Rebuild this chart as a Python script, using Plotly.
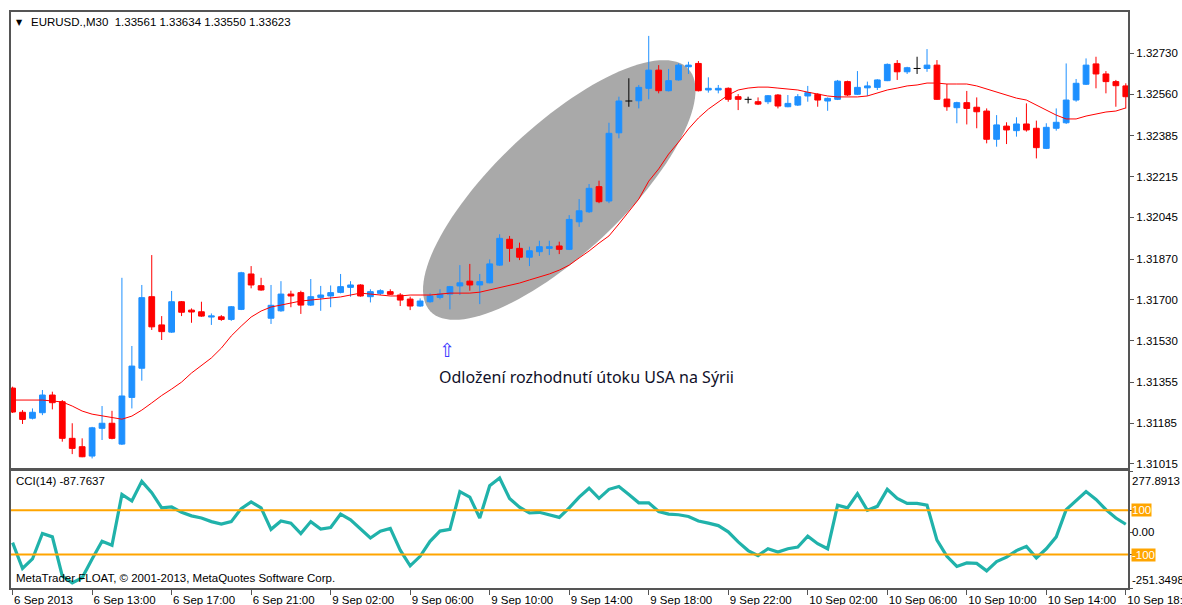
import math
import plotly.graph_objects as go

# ---------------- data ----------------
bar_index = list(range(113))

tick_index = [0, 8, 16, 24, 32, 40, 48, 56, 64, 72, 80, 88, 96, 104, 112]
tick_labels = ["6 Sep 2013", "6 Sep 13:00", "6 Sep 17:00", "6 Sep 21:00", "9 Sep 02:00",
               "9 Sep 06:00", "9 Sep 10:00", "9 Sep 14:00", "9 Sep 18:00", "9 Sep 22:00",
               "10 Sep 02:00", "10 Sep 06:00", "10 Sep 10:00", "10 Sep 14:00", "10 Sep 18:00"]

price_ticks = [1.32730, 1.32560, 1.32385, 1.32215, 1.32045, 1.31870,
               1.31700, 1.31530, 1.31355, 1.31185, 1.31015]

opens = [1.31331, 1.31230, 1.31205, 1.31228, 1.31302, 1.31274, 1.31121, 1.31086, 1.31047, 1.31163,
         1.31184, 1.31097, 1.31292, 1.31414, 1.31713, 1.31595, 1.31565, 1.31692, 1.31657, 1.31650,
         1.31628, 1.31629, 1.31618, 1.31660, 1.31808, 1.31759, 1.31623, 1.31654, 1.31724, 1.31730,
         1.31678, 1.31710, 1.31716, 1.31731, 1.31752, 1.31762, 1.31713, 1.31727, 1.31734, 1.31720,
         1.31703, 1.31674, 1.31692, 1.31710, 1.31724, 1.31758, 1.31778, 1.31762, 1.31771, 1.31845,
         1.31953, 1.31915, 1.31878, 1.31901, 1.31915, 1.31925, 1.31911, 1.32026, 1.32068, 1.32173,
         1.32113, 1.32398, 1.32531, 1.32532, 1.32584, 1.32660, 1.32574, 1.32619, 1.32674, 1.32688,
         1.32577, 1.32577, 1.32584, 1.32549, 1.32538, 1.32528, 1.32528, 1.32556, 1.32507, 1.32514,
         1.32552, 1.32559, 1.32531, 1.32538, 1.32612, 1.32559, 1.32586, 1.32588, 1.32616, 1.32688,
         1.32653, 1.32667, 1.32667, 1.32681, 1.32539, 1.32503, 1.32524, 1.32505, 1.32489, 1.32371,
         1.32426, 1.32407, 1.32435, 1.32417, 1.32333, 1.32417, 1.32440, 1.32535, 1.32601, 1.32686,
         1.32644, 1.32612, 1.32594]

highs = [1.31337, 1.31239, 1.31246, 1.31323, 1.31316, 1.31281, 1.31184, 1.31121, 1.31169, 1.31256,
         1.31236, 1.31792, 1.31507, 1.31762, 1.31887, 1.31632, 1.31737, 1.31695, 1.31664, 1.31692,
         1.31643, 1.31636, 1.31674, 1.31817, 1.31841, 1.31792, 1.31762, 1.31778, 1.31738, 1.31738,
         1.31787, 1.31758, 1.31760, 1.31808, 1.31778, 1.31765, 1.31744, 1.31744, 1.31744, 1.31728,
         1.31713, 1.31706, 1.31727, 1.31744, 1.31758, 1.31845, 1.31850, 1.31808, 1.31869, 1.31974,
         1.31967, 1.31939, 1.31922, 1.31947, 1.31947, 1.31943, 1.32054, 1.32121, 1.32184, 1.32198,
         1.32440, 1.32549, 1.32626, 1.32598, 1.32803, 1.32681, 1.32665, 1.32688, 1.32695, 1.32698,
         1.32630, 1.32598, 1.32588, 1.32560, 1.32549, 1.32546, 1.32556, 1.32560, 1.32556, 1.32560,
         1.32594, 1.32563, 1.32546, 1.32619, 1.32616, 1.32656, 1.32612, 1.32622, 1.32688, 1.32702,
         1.32674, 1.32716, 1.32748, 1.32702, 1.32602, 1.32528, 1.32573, 1.32546, 1.32500, 1.32472,
         1.32442, 1.32463, 1.32521, 1.32449, 1.32438, 1.32500, 1.32688, 1.32623, 1.32709, 1.32716,
         1.32656, 1.32619, 1.32605]

lows = [1.31227, 1.31181, 1.31200, 1.31218, 1.31242, 1.31107, 1.31055, 1.31042, 1.31037, 1.31114,
        1.31117, 1.31093, 1.31246, 1.31362, 1.31574, 1.31532, 1.31562, 1.31632, 1.31604, 1.31629,
        1.31595, 1.31612, 1.31612, 1.31657, 1.31748, 1.31738, 1.31599, 1.31650, 1.31669, 1.31641,
        1.31674, 1.31654, 1.31669, 1.31727, 1.31713, 1.31713, 1.31689, 1.31720, 1.31720, 1.31674,
        1.31657, 1.31671, 1.31688, 1.31702, 1.31660, 1.31720, 1.31738, 1.31682, 1.31769, 1.31842,
        1.31859, 1.31866, 1.31841, 1.31883, 1.31887, 1.31891, 1.31908, 1.32005, 1.32063, 1.32104,
        1.32104, 1.32375, 1.32507, 1.32500, 1.32538, 1.32563, 1.32571, 1.32616, 1.32644, 1.32571,
        1.32566, 1.32563, 1.32528, 1.32493, 1.32521, 1.32514, 1.32518, 1.32500, 1.32505, 1.32510,
        1.32528, 1.32507, 1.32490, 1.32535, 1.32552, 1.32556, 1.32552, 1.32577, 1.32614, 1.32619,
        1.32644, 1.32644, 1.32653, 1.32536, 1.32490, 1.32438, 1.32433, 1.32417, 1.32354, 1.32340,
        1.32351, 1.32382, 1.32403, 1.32291, 1.32330, 1.32407, 1.32435, 1.32528, 1.32598, 1.32584,
        1.32563, 1.32507, 1.32500]

closes = [1.31231, 1.31200, 1.31230, 1.31302, 1.31270, 1.31121, 1.31079, 1.31044, 1.31165, 1.31184,
          1.31121, 1.31298, 1.31423, 1.31709, 1.31587, 1.31567, 1.31692, 1.31648, 1.31649, 1.31632,
          1.31633, 1.31618, 1.31671, 1.31813, 1.31762, 1.31741, 1.31677, 1.31724, 1.31716, 1.31678,
          1.31713, 1.31720, 1.31730, 1.31755, 1.31762, 1.31716, 1.31734, 1.31738, 1.31723, 1.31699,
          1.31674, 1.31695, 1.31716, 1.31724, 1.31755, 1.31771, 1.31762, 1.31776, 1.31850, 1.31957,
          1.31915, 1.31878, 1.31905, 1.31922, 1.31922, 1.31911, 1.32036, 1.32072, 1.32166, 1.32110,
          1.32396, 1.32531, 1.32531, 1.32588, 1.32660, 1.32574, 1.32616, 1.32681, 1.32681, 1.32574,
          1.32584, 1.32584, 1.32538, 1.32538, 1.32538, 1.32518, 1.32553, 1.32510, 1.32521, 1.32549,
          1.32566, 1.32535, 1.32542, 1.32614, 1.32556, 1.32588, 1.32594, 1.32619, 1.32684, 1.32653,
          1.32670, 1.32667, 1.32681, 1.32538, 1.32507, 1.32524, 1.32500, 1.32486, 1.32371, 1.32431,
          1.32410, 1.32435, 1.32410, 1.32336, 1.32421, 1.32442, 1.32535, 1.32605, 1.32681, 1.32644,
          1.32612, 1.32595, 1.32549]

moving_avg = [1.31281, 1.31281, 1.31281, 1.31281, 1.31277, 1.31273, 1.31256, 1.31235, 1.31222, 1.31214,
              1.31206, 1.31201, 1.31214, 1.31239, 1.31269, 1.31300, 1.31327, 1.31356, 1.31394, 1.31427,
              1.31457, 1.31498, 1.31549, 1.31590, 1.31628, 1.31653, 1.31670, 1.31678, 1.31686, 1.31695,
              1.31699, 1.31703, 1.31707, 1.31712, 1.31720, 1.31728, 1.31724, 1.31720, 1.31716, 1.31716,
              1.31720, 1.31720, 1.31720, 1.31724, 1.31728, 1.31728, 1.31728, 1.31732, 1.31741, 1.31753,
              1.31762, 1.31770, 1.31783, 1.31795, 1.31808, 1.31824, 1.31845, 1.31875, 1.31904, 1.31937,
              1.31967, 1.32017, 1.32067, 1.32121, 1.32196, 1.32247, 1.32309, 1.32359, 1.32414, 1.32460,
              1.32497, 1.32527, 1.32556, 1.32577, 1.32585, 1.32589, 1.32589, 1.32585, 1.32581, 1.32577,
              1.32568, 1.32560, 1.32552, 1.32548, 1.32548, 1.32548, 1.32552, 1.32564, 1.32577, 1.32585,
              1.32594, 1.32598, 1.32606, 1.32606, 1.32602, 1.32602, 1.32602, 1.32594, 1.32581, 1.32568,
              1.32556, 1.32543, 1.32535, 1.32514, 1.32493, 1.32472, 1.32456, 1.32456, 1.32468, 1.32477,
              1.32485, 1.32489, 1.32502]

cci = [-46, -163, -120, -5, -20, -197, -228, -205, -120, -40,
       -58, 172, 142, 231, 180, 111, 115, 91, 75, 65,
       49, 38, 49, 108, 138, 111, 14, 52, 42, -5,
       49, 15, 22, 83, 57, 18, -25, 6, 18, -80,
       -151, -108, -40, 6, 14, 185, 160, 65, 211, 246,
       154, 114, 88, 91, 80, 68, 111, 160, 200, 154,
       195, 208, 172, 134, 134, 95, 83, 80, 72, 52,
       42, 31, 3, -43, -82, -105, -74, -89, -74, -66,
       -17, -51, -74, 123, 111, 175, 100, 118, 195, 154,
       131, 131, 123, -35, -108, -154, -138, -140, -174, -132,
       -112, -82, -63, -115, -74, -20, 103, 145, 185, 149,
       103, 65, 37]

cci_levels = [100, -100]
cci_max, cci_min = 277.8913, -251.3498

header_text = "EURUSD.,M30  1.33561 1.33634 1.33550 1.33623"
cci_title = "CCI(14) -87.7637"
copyright_text = "MetaTrader FLOAT, \u00a9 2001-2013, MetaQuotes Software Corp."
note_text = "Odložení rozhodnutí útoku USA na Sýrii"
note_bar, note_price = 42.7, 1.31377
arrow_bar, arrow_price = 43.7, 1.31490

# ellipse object (anchored by bar index / price, size in screen pixels)
ell_bar, ell_price = 55.0, 1.32159
ell_a_px, ell_b_px, ell_tilt_deg = 177, 64, 43.2

# ---------------- layout constants ----------------
FIG_W, FIG_H = 1182, 605
M_L, M_T = 11, 12
M_R = FIG_W - 1128
M_B = FIG_H - 588
PLOT_W = FIG_W - M_L - M_R
PLOT_H = FIG_H - M_T - M_B
X_RANGE = [-0.16, 112.22]
PRICE_RANGE = [1.30997, 1.32903]


def paper_x(px):
    return (px - M_L) / PLOT_W


def paper_y(py):
    return (FIG_H - M_B - py) / PLOT_H


MAIN_DOM = [paper_y(468), 1.0]
CCI_DOM = [0.0, paper_y(471)]

BLUE = "#1E90FF"
RED = "#FF0000"
BLACK = "#000000"
FRAME = "#555555"
FONT = "Liberation Sans"
FS = 11.5

fig = go.Figure()

bull = [i for i in bar_index if closes[i] > opens[i]]
bear = [i for i in bar_index if closes[i] < opens[i]]
doji = [i for i in bar_index if closes[i] == opens[i]]

for group, col in ((bull, BLUE), (bear, RED)):
    fig.add_trace(go.Bar(
        x=group,
        y=[abs(closes[i] - opens[i]) for i in group],
        base=[min(opens[i], closes[i]) for i in group],
        width=0.58,
        marker=dict(color=col, line=dict(color=col, width=1)),
        xaxis="x", yaxis="y", hoverinfo="skip"))

for group, col in ((bull, BLUE), (bear, RED), (doji, BLACK)):
    xs, ys = [], []
    for i in group:
        xs += [i, i, None]
        ys += [lows[i], highs[i], None]
    if col == BLACK:
        for i in group:
            xs += [i - 0.35, i + 0.35, None]
            ys += [opens[i], opens[i], None]
    fig.add_trace(go.Scatter(x=xs, y=ys, mode="lines", line=dict(color=col, width=1),
                             xaxis="x", yaxis="y", hoverinfo="skip"))

fig.add_trace(go.Scatter(x=bar_index, y=moving_avg, mode="lines",
                         line=dict(color=RED, width=1), xaxis="x", yaxis="y", hoverinfo="skip"))

fig.add_trace(go.Scatter(x=bar_index, y=cci, mode="lines",
                         line=dict(color="#20B2AA", width=3.2), xaxis="x2", yaxis="y2",
                         hoverinfo="skip"))

# ellipse path in data coordinates
main_h_px = PLOT_H * (MAIN_DOM[1] - MAIN_DOM[0])
px_per_bar = PLOT_W / (X_RANGE[1] - X_RANGE[0])
px_per_price = main_h_px / (PRICE_RANGE[1] - PRICE_RANGE[0])
th = math.radians(ell_tilt_deg)
pts = []
for k in range(121):
    t = 2 * math.pi * k / 120
    dx = ell_a_px * math.cos(t) * math.cos(th) - ell_b_px * math.sin(t) * math.sin(th)
    dy = ell_a_px * math.cos(t) * math.sin(th) + ell_b_px * math.sin(t) * math.cos(th)
    pts.append((ell_bar + dx / px_per_bar, ell_price + dy / px_per_price))
path = "M " + " L ".join(f"{x:.4f},{y:.6f}" for x, y in pts) + " Z"

shapes = [dict(type="path", path=path, xref="x", yref="y", fillcolor="#A9A9A9",
               line=dict(width=0), layer="below")]
for lv in cci_levels:
    shapes.append(dict(type="line", xref="x2 domain", x0=0, x1=1, yref="y2", y0=lv, y1=lv,
                       line=dict(color="#FFA500", width=2)))

annotations = [
    dict(text="\u25bc", x=paper_x(14), y=paper_y(22), xref="paper", yref="paper",
         xanchor="left", yanchor="middle", showarrow=False,
         font=dict(family="DejaVu Sans", size=8, color=BLACK)),
    dict(text=header_text, x=paper_x(29), y=paper_y(22), xref="paper", yref="paper",
         xanchor="left", yanchor="middle", showarrow=False,
         font=dict(family=FONT, size=FS, color=BLACK)),
    dict(text=cci_title, x=paper_x(14), y=paper_y(481), xref="paper", yref="paper",
         xanchor="left", yanchor="middle", showarrow=False,
         font=dict(family=FONT, size=FS, color=BLACK)),
    dict(text=copyright_text, x=paper_x(14), y=paper_y(578), xref="paper", yref="paper",
         xanchor="left", yanchor="middle", showarrow=False,
         font=dict(family=FONT, size=FS, color=BLACK)),
    dict(text=note_text, x=note_bar, y=note_price, xref="x", yref="y",
         xanchor="left", yanchor="middle", showarrow=False,
         font=dict(family="Noto Sans", size=16, color="#101028")),
    dict(text="\u21e7", x=arrow_bar, y=arrow_price, xref="x", yref="y",
         xanchor="center", yanchor="middle", showarrow=False,
         font=dict(family="DejaVu Sans", size=19, color="#3a3aff")),
    dict(text=f"{cci_max:.4f}", x=paper_x(1130), y=paper_y(481), xref="paper", yref="paper",
         xanchor="left", yanchor="middle", showarrow=False,
         font=dict(family=FONT, size=FS, color=BLACK)),
    dict(text="0.00", x=paper_x(1130), y=0, xref="paper", yref="y2",
         xanchor="left", yanchor="middle", showarrow=False,
         font=dict(family=FONT, size=FS, color=BLACK)),
    dict(text=f"{cci_min:.4f}", x=paper_x(1130), y=paper_y(580), xref="paper", yref="paper",
         xanchor="left", yanchor="middle", showarrow=False,
         font=dict(family=FONT, size=FS, color=BLACK)),
]
for lv in cci_levels:
    annotations.append(dict(text=str(lv), x=paper_x(1131), y=lv, xref="paper", yref="y2",
                            xanchor="left", yanchor="middle", showarrow=False,
                            bgcolor="#FFA500", borderpad=0,
                            font=dict(family=FONT, size=FS, color="#FFFFFF")))

fig.update_layout(
    width=FIG_W, height=FIG_H,
    margin=dict(l=M_L, r=M_R, t=M_T, b=M_B, autoexpand=False),
    paper_bgcolor="white", plot_bgcolor="white",
    showlegend=False, barmode="overlay",
    shapes=shapes, annotations=annotations,
    xaxis=dict(domain=[0, 1], anchor="y", range=X_RANGE, showgrid=False, zeroline=False,
               automargin=False,
               showticklabels=False, ticks="", showline=True, mirror=True,
               linecolor=FRAME, linewidth=2),
    yaxis=dict(domain=MAIN_DOM, anchor="x", side="right", range=PRICE_RANGE,
               automargin=False,
               showgrid=False, zeroline=False, tickvals=price_ticks,
               ticktext=[f"{v:.5f}" for v in price_ticks], ticks="outside", ticklen=4,
               tickcolor=FRAME, showline=True, mirror=True, linecolor=FRAME, linewidth=2,
               tickfont=dict(family=FONT, size=FS, color=BLACK)),
    xaxis2=dict(domain=[0, 1], anchor="y2", matches="x", range=X_RANGE, showgrid=False,
                automargin=False,
                zeroline=False, tickvals=tick_index, ticktext=tick_labels, ticks="outside",
                ticklen=5, tickcolor=FRAME, ticklabelposition="outside right",
                ticklabeloverflow="allow",
                showline=True, mirror=True, linecolor=FRAME, linewidth=2,
                tickfont=dict(family=FONT, size=FS, color=BLACK)),
    yaxis2=dict(domain=CCI_DOM, anchor="x2", side="right", range=[cci_min, cci_max],
                automargin=False,
                showgrid=False, zeroline=False, tickvals=[cci_max, 100, 0, -100, cci_min],
                showticklabels=False, ticks="outside", ticklen=3, tickcolor=FRAME,
                showline=True, mirror=True, linecolor=FRAME, linewidth=2),
)

fig.write_html(
    "out.html",
    config={"displayModeBar": False},
    post_script="document.body.style.margin='0';document.body.style.overflow='hidden';",
)
